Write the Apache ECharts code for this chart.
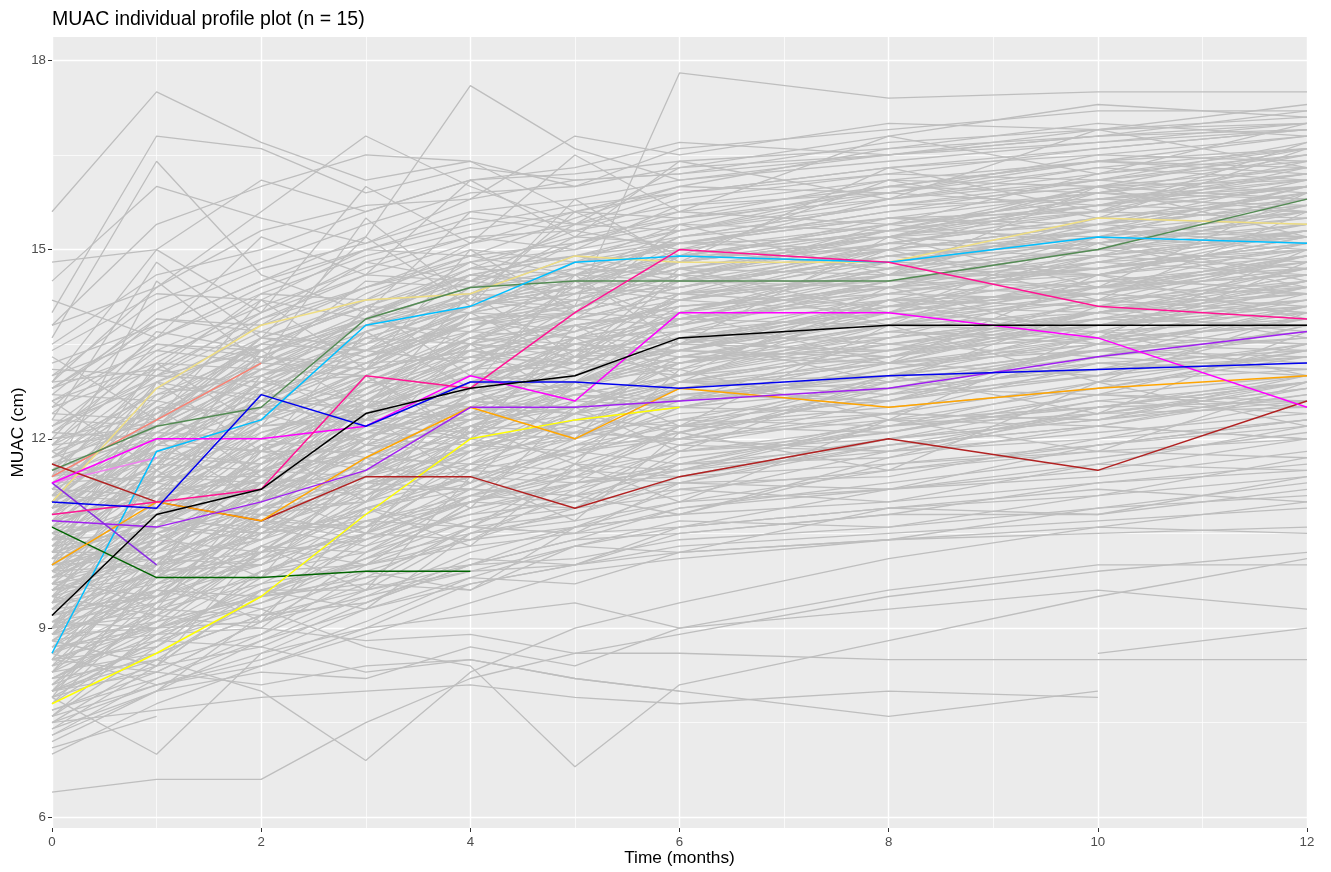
<!DOCTYPE html>
<html>
<head>
<meta charset="utf-8">
<title>MUAC individual profile plot</title>
<script src="https://cdn.jsdelivr.net/npm/echarts@6/dist/echarts.min.js"></script>
<style>
  html, body { margin: 0; padding: 0; background: #ffffff; }
  #chart { width: 1331px; height: 872px; }
</style>
</head>
<body>
<div id="chart"></div>
<script>
// Visit times (months) at which MUAC was measured
const months = [0, 1, 2, 3, 4, 5, 6, 8, 10, 12];

// Axis breaks
const timeTicks = [0, 2, 4, 6, 8, 10, 12];
const muacTicks = [6, 9, 12, 15, 18];
const muacMinorTicks = [7.5, 10.5, 13.5, 16.5];

// Background cohort profiles, MUAC (cm) at each visit; null = no visit
const cohortLow = [
  [7.2, 8.0, 8.8, 9.5, 10.2, 10.6, 11.0, 11.5, 11.9, 12.3],
  [7.4, 8.4, 9.6, 10.1, 10.9, 11.2, 11.6, 12.2, 12.5, 12.9],
  [7.5, 8.1, 8.6, 9.0, 9.7, 10.0, 10.5, 10.8, 11.3, 11.6],
  [7.6, 9.0, 10.2, 10.9, 11.4, 11.8, 12.3, 12.6, 13.1, 13.5],
  [7.7, 8.3, 9.1, 10.0, 10.4, 10.9, 11.1, 11.8, 12.0, 12.6],
  [7.8, 9.4, 10.6, 11.5, 12.2, 12.5, 12.9, 13.4, 13.6, 14.1],
  [7.9, 8.8, 9.3, 9.8, 10.6, 10.8, 11.4, 12.0, 12.4, 12.8],
  [8.0, 8.5, 8.9, 9.6, 9.9, 10.3, 10.2, 10.9, 11.2, 11.0],
  [8.0, 9.8, 11.0, 11.6, 12.4, 12.8, 13.2, 13.6, 14.0, 14.4],
  [8.1, 8.7, 9.9, 10.4, 11.1, 11.0, 11.7, 12.1, 12.6, 12.9],
  [8.2, 9.1, 9.5, 10.3, 10.8, 11.3, 11.6, 11.9, 12.4, 12.5],
  [8.3, 9.6, 10.8, 11.9, 12.6, 13.1, 13.4, 13.9, 14.3, 14.8],
  [8.3, 8.6, 9.2, 9.4, 10.0, 10.4, 10.9, 11.3, 11.7, 12.1],
  [8.4, 9.3, 10.1, 10.7, 11.0, 11.6, 12.1, 12.7, 13.0, 13.3],
  [8.5, 10.2, 11.3, 12.0, 12.7, 13.0, 13.5, 14.1, 14.6, 15.0],
  [8.5, 9.0, 9.4, 10.1, 10.7, 11.1, 11.3, 11.9, 12.2, 12.8],
  [8.6, 9.7, 10.4, 11.2, 11.8, 12.0, 12.6, 13.1, 13.5, 13.9],
  [8.7, 8.9, 9.7, 10.5, 11.3, 11.9, 12.0, 12.4, 12.9, 13.1],
  [8.8, 10.0, 10.9, 11.4, 12.1, 12.4, 12.8, 13.3, 13.9, 14.2],
  [8.9, 9.5, 10.0, 10.6, 11.5, 11.4, 12.2, 12.5, 12.8, 13.4],
  [8.9, 10.6, 11.8, 12.5, 13.2, 13.6, 13.9, 14.5, 14.8, 15.3],
  [9.0, 9.2, 9.9, 10.2, 10.9, 11.3, 11.5, 12.0, 12.3, 12.6],
  [9.0, 10.4, 11.1, 12.2, 12.6, 12.9, 13.3, 13.8, 14.2, 14.5],
  [8.0, 8.6, 9.2, 9.6, 10.0, 10.1, 10.4, 10.6, 10.9, 11.1],
  [9.0, 9.3, 9.7, 10.0, 10.3, 10.5, 10.6, 10.9, 11.1, 11.4],
  [8.5, 9.1, 9.5, 10.1, 10.5, 10.7, 11.0, 11.2, 11.4, 11.8],
  [9.6, 9.8, 10.2, 10.4, 10.8, 11.0, 11.2, 11.5, 11.8, 12.0],
  [7.7, 8.2, 8.8, 9.3, 9.7, 10.0, 10.3, 10.5, 10.7, 10.9],
  [10.0, 10.1, 10.4, 10.9, 11.2, 11.1, 11.5, 11.8, 12.1, 12.4],
  [8.9, 9.0, 9.5, 9.8, 10.0, 10.4, 10.5, 10.8, 10.8, 11.2],
  [9.3, 9.5, 10.1, 10.5, 11.0, 11.3, 11.4, 11.6, 11.9, 12.2],
  [8.2, 8.9, 9.4, 9.9, 10.4, 10.6, 10.8, 11.0, 11.3, 11.5],
  [9.9, 10.0, 10.5, 10.7, 11.1, 11.4, 11.8, 12.0, 12.3, 12.7],
  [8.7, 9.0, 9.1, 9.5, 9.9, 10.0, 10.2, 10.4, 10.6, 10.5],
  [10.4, 10.5, 10.9, 11.3, 11.5, 11.8, 12.0, 12.3, 12.5, 12.9],
  [9.1, 9.0, 9.6, 10.0, 10.6, 10.5, 10.9, 11.2, 11.6, 11.5],
  [8.0, 8.8, 8.7, 9.4, 10.1, 10.0, 10.6, 10.9, 10.8, 11.4],
  [9.7, 9.5, 10.3, 10.2, 11.1, 11.5, 11.4, 11.9, 12.2, 12.0],
  [8.5, 8.3, 9.1, 9.7, 9.6, 10.3, 10.7, 10.6, 11.1, 11.7],
  [10.2, 10.6, 10.5, 11.3, 11.6, 11.5, 12.2, 12.4, 12.3, 12.9],
  [7.6, 8.1, 8.5, 9.1, 9.8, 9.7, 10.2, 10.4, 10.5, 10.6]
];

const cohortMid = [
  [9.1, 10.1, 10.8, 11.3, 11.9, 12.3, 12.7, 13.0, 13.6, 13.8],
  [9.2, 9.6, 10.3, 11.0, 11.4, 11.8, 12.1, 12.7, 13.2, 13.4],
  [9.2, 11.0, 12.0, 12.8, 13.3, 13.7, 14.2, 14.6, 15.0, 15.4],
  [9.3, 9.9, 10.5, 10.8, 11.6, 12.0, 12.4, 12.6, 13.0, 13.5],
  [9.3, 10.7, 11.6, 12.3, 12.9, 13.4, 13.6, 14.0, 14.4, 14.9],
  [9.4, 10.3, 11.2, 11.7, 12.3, 12.5, 13.0, 13.5, 13.8, 14.0],
  [9.4, 9.7, 10.0, 10.6, 11.0, 11.5, 11.8, 12.2, 12.7, 13.0],
  [9.5, 11.2, 12.3, 13.0, 13.6, 14.0, 14.4, 14.9, 15.3, 15.6],
  [9.5, 10.5, 11.0, 11.9, 12.5, 12.9, 13.1, 13.7, 14.1, 14.3],
  [9.6, 10.0, 10.9, 11.5, 12.0, 12.2, 12.8, 13.2, 13.5, 13.9],
  [9.6, 10.9, 12.1, 12.6, 13.1, 13.5, 13.8, 14.3, 14.7, 15.1],
  [9.7, 10.2, 10.6, 11.1, 11.7, 12.1, 12.3, 12.9, 13.3, 13.6],
  [9.7, 11.4, 12.6, 13.3, 13.9, 14.2, 14.6, 15.1, 15.5, 15.9],
  [9.8, 10.6, 11.4, 12.1, 12.8, 13.0, 13.5, 13.9, 14.4, 14.6],
  [9.8, 10.1, 10.7, 11.4, 11.8, 12.4, 12.6, 13.0, 13.4, 13.7],
  [9.9, 10.8, 11.7, 12.4, 12.7, 13.3, 13.7, 14.2, 14.5, 14.8],
  [9.9, 11.1, 11.5, 11.8, 12.4, 12.7, 13.0, 13.6, 14.0, 14.2],
  [10.0, 10.4, 11.2, 11.9, 12.2, 12.6, 12.9, 13.4, 13.8, 14.1],
  [10.0, 11.6, 12.8, 13.4, 14.0, 14.3, 14.7, 15.2, 15.6, 16.0],
  [10.1, 10.9, 11.9, 12.5, 13.0, 13.2, 13.6, 14.1, 14.3, 14.7],
  [10.1, 10.3, 10.8, 11.2, 11.9, 12.3, 12.5, 12.8, 13.1, 13.3],
  [10.2, 11.3, 12.2, 12.9, 13.5, 13.8, 14.1, 14.4, 14.9, 15.2],
  [10.2, 10.7, 11.3, 12.0, 12.6, 12.8, 13.3, 13.8, 14.0, 14.5],
  [10.3, 11.8, 12.4, 13.1, 13.4, 13.9, 14.3, 14.8, 15.1, 15.5],
  [10.3, 10.5, 11.1, 11.6, 12.1, 12.7, 13.0, 13.3, 13.7, 13.9],
  [10.4, 11.5, 12.5, 13.2, 13.8, 14.1, 14.5, 15.0, 15.3, 15.8],
  [10.4, 11.0, 11.6, 12.2, 12.9, 13.1, 13.4, 13.9, 14.2, 14.4],
  [10.5, 11.2, 12.0, 12.6, 13.2, 13.6, 13.9, 14.3, 14.8, 15.0],
  [10.5, 10.8, 11.4, 11.8, 12.3, 12.5, 12.9, 13.2, 13.6, 13.8],
  [10.6, 11.9, 12.9, 13.6, 14.1, 14.5, 14.8, 15.3, 15.7, 16.1],
  [10.6, 11.3, 11.8, 12.4, 13.0, 13.3, 13.7, 14.0, 14.5, 14.7],
  [10.7, 11.1, 11.9, 12.7, 13.3, 13.5, 13.8, 14.4, 14.6, 14.9],
  [10.7, 12.2, 13.0, 13.5, 14.2, 14.4, 14.9, 15.4, 15.8, 16.2],
  [10.8, 11.6, 12.3, 12.8, 13.4, 13.9, 14.2, 14.6, 15.0, 15.3],
  [10.8, 11.0, 11.5, 12.1, 12.5, 12.9, 13.2, 13.5, 13.9, 14.1],
  [10.9, 12.0, 12.7, 13.3, 13.7, 14.0, 14.4, 14.9, 15.2, 15.6],
  [10.9, 11.4, 12.1, 12.5, 13.1, 13.2, 13.6, 14.1, 14.4, 14.6],
  [11.0, 12.4, 13.3, 13.9, 14.4, 14.7, 15.1, 15.5, 15.9, 16.3],
  [11.0, 11.7, 12.4, 13.0, 13.6, 13.8, 14.0, 14.7, 15.0, 15.2],
  [11.1, 11.5, 12.2, 12.9, 13.5, 13.9, 14.3, 14.5, 14.9, 15.3],
  [11.1, 12.1, 12.8, 13.4, 13.8, 14.2, 14.6, 15.0, 15.4, 15.7],
  [11.2, 11.9, 12.6, 13.2, 13.9, 14.1, 14.5, 14.8, 15.2, 15.5],
  [11.2, 12.6, 13.5, 14.1, 14.6, 14.9, 15.2, 15.7, 16.1, 16.4],
  [11.3, 11.8, 12.3, 13.1, 13.4, 13.7, 14.1, 14.4, 14.7, 15.0],
  [11.4, 12.3, 13.1, 13.7, 14.3, 14.6, 14.9, 15.3, 15.6, 16.0],
  [11.4, 12.0, 12.7, 13.3, 13.8, 14.0, 14.4, 14.9, 15.1, 15.4],
  [11.5, 12.8, 13.6, 14.2, 14.8, 15.0, 15.3, 15.8, 16.2, 16.5],
  [11.5, 12.1, 12.9, 13.5, 14.0, 14.3, 14.7, 15.1, 15.5, 15.8],
  [11.6, 12.5, 13.2, 13.8, 14.5, 14.8, 15.0, 15.4, 15.8, 16.1],
  [11.7, 12.2, 13.0, 13.6, 14.1, 14.4, 14.8, 15.2, 15.4, 15.7],
  [11.8, 13.0, 13.8, 14.4, 14.9, 15.1, 15.5, 15.9, 16.3, 16.6],
  [11.9, 12.7, 13.4, 13.9, 14.6, 14.9, 15.1, 15.6, 15.9, 16.2],
  [12.0, 12.4, 13.1, 13.8, 14.2, 14.5, 14.9, 15.3, 15.7, 16.0]
];

const cohortHigh = [
  [12.1, 13.3, 14.0, 14.6, 15.1, 15.4, 15.7, 16.1, 16.4, 16.8],
  [12.2, 12.9, 13.5, 14.1, 14.7, 14.9, 15.3, 15.7, 16.0, 16.3],
  [12.4, 13.6, 14.3, 14.9, 15.3, 15.6, 15.9, 16.2, 16.6, 16.9],
  [12.5, 13.1, 13.9, 14.4, 14.8, 15.2, 15.5, 15.8, 16.1, 16.5],
  [12.7, 14.0, 14.7, 15.1, 15.6, 15.8, 16.1, 16.4, 16.7, 17.0],
  [12.8, 13.4, 14.1, 14.7, 15.2, 15.3, 15.6, 16.0, 16.4, 16.6],
  [13.0, 14.2, 14.8, 15.4, 15.9, 16.0, 16.3, 16.5, 16.9, 17.1],
  [13.2, 13.8, 14.5, 15.0, 15.4, 15.7, 15.9, 16.3, 16.5, 16.8],
  [13.5, 14.6, 15.0, 15.6, 16.1, 16.2, 16.4, 16.6, 16.8, 17.2],
  [13.8, 14.4, 15.3, 15.7, 15.8, 16.1, 16.2, 16.5, 16.7, 16.9],
  [15.6, 17.5, 16.7, 16.1, 16.4, 16.0, 16.6, 16.9, 17.2, 17.2],
  [14.0, 16.8, 16.6, 15.9, 16.3, 16.1, 16.2, 16.7, 16.9, 17.0],
  [13.6, 16.4, 14.6, 14.0, 15.6, 15.4, 15.9, 16.3, 16.6, 16.9],
  [12.8, 13.8, 14.5, 15.2, 17.6, 16.6, 16.1, 16.5, 16.8, 17.0],
  [11.7, 12.6, 13.4, 13.9, 14.8, 14.1, 17.8, 17.4, 17.5, 17.5],
  [12.9, 14.4, 15.6, 16.8, 16.0, 15.4, 16.3, 16.8, 17.3, 17.1],
  [14.5, 16.0, 15.5, 15.1, 15.8, 16.8, 16.5, 17.0, 16.9, 17.3],
  [13.8, 15.4, 16.0, 16.5, 16.4, 15.6, 16.0, 16.6, 17.0, 16.8],
  [14.8, 15.0, 16.1, 15.6, 16.1, 16.3, 16.7, 16.5, 16.8, 16.9]
];

const cohortIrregular = [
  [10.2, 12.5, 11.4, 13.0, 12.1, 13.6, 12.9, 14.2, 13.5, 14.8],
  [11.8, 10.9, 12.8, 11.9, 13.5, 12.6, 14.0, 13.2, 14.6, 13.9],
  [9.0, 11.5, 10.6, 12.4, 11.3, 12.9, 12.2, 13.8, 12.9, 14.0],
  [12.6, 11.5, 13.4, 12.5, 14.3, 13.3, 14.7, 14.0, 15.2, 14.5],
  [8.5, 10.5, 9.8, 11.7, 10.9, 12.5, 11.8, 13.0, 12.4, 13.7],
  [10.9, 13.2, 12.2, 14.1, 13.0, 14.5, 13.8, 15.0, 14.2, 15.6],
  [13.3, 12.3, 14.2, 13.1, 15.0, 14.0, 15.4, 14.6, 16.0, 15.2],
  [9.9, 9.3, 11.2, 10.5, 12.2, 11.6, 13.1, 12.3, 13.7, 13.0],
  [11.4, 14.5, 13.2, 15.5, 14.2, 15.6, 14.9, 16.1, 15.5, 16.6],
  [7.9, 9.9, 9.1, 10.9, 10.3, 11.6, 11.0, 12.3, 11.8, 12.9],
  [12.9, 15.0, 14.0, 16.0, 15.1, 16.5, 15.6, 16.8, 16.2, 17.0],
  [10.5, 9.9, 11.9, 11.0, 12.8, 12.0, 13.6, 12.9, 14.1, 13.6],
  [9.4, 12.0, 11.0, 13.0, 12.0, 13.8, 13.0, 14.4, 13.6, 15.0],
  [11.6, 11.0, 13.0, 12.3, 14.0, 13.2, 14.6, 13.8, 15.1, 14.4],
  [8.8, 8.4, 10.3, 9.6, 11.4, 10.7, 12.1, 11.5, 12.9, 12.2],
  [14.2, 13.6, 15.2, 14.6, 16.1, 15.2, 16.4, 15.8, 16.9, 16.3],
  [10.0, 12.9, 11.8, 13.7, 12.8, 14.6, 13.5, 15.2, 14.4, 15.9],
  [12.3, 14.8, 13.6, 15.2, 14.1, 15.8, 14.8, 16.3, 15.6, 16.7],
  [10.3, 11.0, 12.4, 12.0, 12.9, 13.5, 13.3, 13.9, 14.6, 14.3],
  [9.6, 10.9, 11.2, 12.5, 12.3, 13.0, 13.7, 13.5, 14.0, 14.7],
  [11.3, 12.6, 12.3, 13.1, 13.9, 13.6, 14.2, 14.9, 14.6, 15.3],
  [8.7, 9.9, 10.8, 10.5, 11.6, 12.2, 11.9, 12.6, 13.3, 13.1],
  [10.8, 12.3, 12.0, 12.8, 13.6, 13.4, 14.3, 14.1, 14.8, 15.4],
  [9.1, 9.8, 11.1, 11.8, 11.5, 12.4, 12.9, 12.7, 13.5, 14.0],
  [12.1, 12.0, 13.2, 13.9, 13.5, 14.4, 15.0, 14.7, 15.4, 15.9],
  [8.4, 10.0, 10.2, 11.4, 12.0, 11.7, 12.5, 13.2, 13.0, 13.8],
  [10.6, 10.6, 11.7, 12.1, 12.8, 13.4, 13.2, 14.0, 13.8, 14.5],
  [11.9, 13.5, 13.3, 14.0, 14.5, 14.3, 15.1, 15.5, 15.3, 16.0],
  [9.3, 10.4, 10.2, 11.3, 11.9, 12.1, 12.0, 12.9, 13.4, 13.2],
  [10.1, 11.5, 12.5, 12.3, 13.4, 13.1, 14.0, 14.6, 14.4, 15.1],
  [11.5, 11.3, 12.6, 13.4, 13.2, 14.1, 14.6, 14.4, 15.2, 15.6],
  [8.9, 10.3, 11.4, 11.2, 12.2, 12.8, 12.6, 13.3, 14.0, 13.7],
  [12.6, 13.2, 14.2, 13.9, 14.7, 15.3, 15.0, 15.8, 16.3, 16.1],
  [9.7, 10.0, 11.8, 11.5, 12.2, 12.9, 13.6, 13.3, 14.2, 14.0],
  [10.9, 11.8, 11.6, 12.9, 13.6, 13.5, 13.9, 14.5, 15.0, 14.8],
  [7.6, 8.7, 9.6, 9.3, 10.5, 11.1, 10.8, 11.7, 12.2, 12.0],
  [11.0, 12.9, 13.7, 13.4, 14.0, 14.8, 14.5, 15.3, 15.9, 15.6],
  [9.5, 10.0, 10.4, 11.6, 11.3, 12.1, 12.8, 12.6, 13.3, 13.9],
  [12.3, 12.2, 13.3, 13.1, 14.3, 14.9, 14.6, 15.2, 15.7, 16.2],
  [10.4, 12.0, 11.8, 12.7, 13.3, 13.0, 14.0, 14.4, 14.3, 15.0],
  [8.1, 9.2, 10.6, 10.3, 11.2, 11.8, 11.6, 12.3, 12.8, 13.3],
  [11.7, 12.9, 12.6, 13.9, 14.2, 14.0, 14.9, 15.4, 15.1, 15.8],
  [9.2, 9.5, 10.7, 10.6, 11.8, 12.4, 12.1, 13.0, 13.4, 13.6],
  [10.7, 11.6, 12.9, 12.6, 13.6, 14.2, 14.0, 14.7, 15.3, 15.1],
  [13.1, 13.0, 14.0, 14.8, 14.5, 15.1, 15.6, 15.4, 16.2, 16.6],
  [9.9, 11.3, 11.0, 12.0, 12.6, 12.4, 13.2, 13.7, 13.5, 14.3],
  [11.2, 11.1, 12.7, 12.4, 13.1, 13.8, 13.5, 14.3, 14.8, 14.6],
  [8.6, 9.4, 9.8, 10.9, 10.6, 11.5, 12.0, 11.8, 12.5, 13.0],
  [12.0, 13.7, 13.4, 14.3, 14.9, 14.6, 15.3, 15.9, 15.7, 16.4],
  [10.0, 10.9, 12.0, 11.7, 12.7, 13.2, 13.0, 13.8, 14.3, 14.1],
  [7.3, 8.2, 8.9, 9.9, 9.6, 10.6, 11.2, 11.0, 11.6, 12.2],
  [11.6, 12.4, 13.6, 13.3, 14.1, 14.4, 14.2, 15.0, 15.4, 15.2],
  [9.4, 10.8, 10.5, 11.6, 12.4, 12.2, 12.9, 13.5, 13.3, 14.1],
  [10.2, 10.2, 11.0, 12.3, 12.0, 12.9, 13.4, 13.2, 13.9, 14.5],
  [12.8, 13.9, 13.7, 14.4, 15.0, 14.8, 15.4, 16.0, 15.9, 16.5],
  [8.3, 9.1, 10.3, 10.0, 11.0, 11.4, 11.3, 12.0, 12.6, 12.4],
  [11.4, 13.1, 12.8, 13.7, 14.2, 14.1, 14.8, 15.2, 15.0, 15.9],
  [9.8, 10.5, 11.3, 11.1, 12.1, 12.7, 12.5, 13.1, 13.7, 13.5]
];

const cohortCrossing = [
  [8.1, 9.5, 10.9, 11.0, 12.1, 12.0, 12.9, 13.0, 13.8, 14.2],
  [9.0, 10.0, 11.6, 12.2, 12.3, 13.3, 13.1, 14.2, 14.1, 14.9],
  [10.1, 11.6, 11.5, 12.8, 13.5, 13.3, 14.2, 14.0, 14.9, 15.3],
  [11.1, 11.0, 12.2, 12.3, 13.2, 14.0, 13.9, 14.6, 15.2, 15.0],
  [12.2, 13.4, 13.2, 14.5, 14.4, 15.2, 15.1, 15.6, 16.1, 15.9],
  [8.6, 9.2, 10.5, 11.3, 11.2, 12.0, 12.7, 12.6, 13.5, 13.4],
  [9.7, 10.9, 10.8, 12.0, 12.9, 12.8, 13.4, 14.1, 14.0, 14.6],
  [10.6, 12.1, 12.0, 13.0, 13.9, 13.7, 14.5, 14.4, 15.1, 15.7],
  [11.5, 11.6, 13.3, 13.2, 14.0, 14.7, 14.6, 15.3, 15.2, 16.0],
  [12.7, 12.6, 13.9, 14.6, 14.5, 15.4, 15.3, 16.0, 16.4, 16.2],
  [7.8, 8.9, 9.0, 10.2, 10.7, 10.9, 11.6, 11.7, 12.5, 12.6],
  [8.9, 9.9, 10.0, 11.1, 11.8, 12.3, 12.2, 13.0, 13.1, 13.8],
  [9.9, 10.6, 11.8, 11.8, 12.6, 13.1, 13.9, 13.8, 14.5, 14.4],
  [11.2, 12.5, 12.4, 13.6, 13.5, 14.3, 14.4, 15.1, 15.0, 15.6],
  [12.4, 12.3, 13.6, 13.5, 14.6, 14.5, 15.2, 15.5, 15.6, 16.3],
  [8.3, 10.1, 10.0, 11.0, 11.9, 11.8, 12.7, 12.9, 13.2, 13.1],
  [9.4, 9.9, 11.3, 11.4, 12.5, 12.4, 13.3, 13.4, 14.0, 14.3],
  [10.4, 10.8, 12.2, 12.4, 13.1, 13.9, 13.8, 14.5, 14.7, 15.3],
  [11.3, 12.2, 13.4, 13.8, 13.7, 14.6, 14.8, 15.2, 15.8, 15.7],
  [13.4, 14.3, 14.2, 15.0, 15.5, 15.3, 15.8, 16.2, 16.1, 16.7],
  [7.5, 8.5, 9.5, 9.7, 10.6, 10.5, 11.3, 11.4, 12.0, 12.3],
  [8.8, 9.7, 10.6, 10.6, 11.5, 12.1, 12.0, 12.8, 12.7, 13.5],
  [10.0, 11.1, 11.2, 12.3, 12.4, 13.3, 13.4, 14.0, 14.4, 14.3],
  [11.0, 12.3, 13.2, 13.1, 14.0, 13.9, 14.9, 15.0, 15.4, 15.9],
  [12.0, 12.2, 13.6, 14.1, 14.0, 14.8, 15.1, 15.0, 15.9, 15.8],
  [8.4, 8.8, 9.8, 10.7, 10.6, 11.3, 11.5, 12.2, 12.4, 12.8],
  [9.5, 10.4, 11.5, 11.4, 12.3, 12.7, 12.6, 13.6, 13.9, 13.8],
  [10.7, 11.2, 11.3, 12.6, 13.4, 13.2, 14.1, 14.3, 14.2, 14.9],
  [11.8, 12.3, 13.5, 13.4, 14.4, 14.6, 14.5, 15.4, 15.7, 15.6],
  [13.0, 13.6, 14.4, 15.0, 14.9, 15.5, 16.0, 15.9, 16.5, 16.4],
  [8.0, 9.3, 9.2, 10.5, 11.2, 11.1, 11.9, 12.4, 12.3, 13.0],
  [9.1, 9.4, 10.8, 11.0, 11.7, 12.6, 12.5, 13.1, 13.6, 13.5],
  [10.3, 11.4, 11.4, 12.6, 12.5, 13.4, 13.6, 13.6, 14.4, 14.8],
  [11.4, 11.7, 12.9, 13.0, 13.9, 14.0, 14.9, 14.8, 15.3, 15.2],
  [12.5, 13.9, 13.8, 14.8, 15.2, 15.0, 15.7, 15.9, 16.4, 16.3],
  [8.6, 9.8, 10.7, 10.4, 11.1, 11.7, 12.3, 12.2, 12.9, 13.4],
  [9.6, 10.2, 11.0, 11.9, 11.8, 12.6, 13.0, 13.7, 13.6, 14.2],
  [10.8, 11.9, 11.8, 12.6, 13.3, 13.2, 14.3, 14.6, 14.6, 15.2],
  [11.9, 12.1, 13.0, 13.8, 14.3, 14.2, 14.8, 15.5, 15.4, 16.1],
  [7.4, 8.0, 9.2, 9.4, 10.0, 10.6, 10.8, 11.6, 11.8, 11.7],
  [8.2, 9.0, 9.9, 10.5, 10.4, 11.2, 11.9, 11.8, 12.4, 12.9],
  [9.3, 10.6, 10.4, 11.5, 12.2, 12.1, 12.8, 13.2, 13.4, 13.3],
  [10.5, 10.7, 11.9, 12.0, 12.7, 13.6, 13.5, 14.2, 14.3, 14.9],
  [11.7, 12.8, 12.7, 13.7, 14.1, 14.4, 14.3, 15.1, 15.6, 15.5],
  [12.9, 13.1, 14.3, 14.2, 15.1, 15.6, 15.5, 16.1, 16.0, 16.6],
  [8.5, 8.7, 9.9, 10.0, 11.0, 10.9, 11.8, 12.1, 12.7, 12.6],
  [9.8, 11.0, 11.1, 12.1, 12.0, 12.9, 13.3, 13.2, 14.0, 14.6],
  [10.9, 11.3, 12.4, 12.9, 12.8, 13.6, 13.7, 14.5, 14.4, 14.9],
  [11.1, 12.7, 13.0, 13.4, 14.1, 14.3, 14.7, 14.6, 15.5, 15.4],
  [9.2, 9.9, 10.1, 11.2, 11.2, 11.9, 12.5, 12.4, 13.2, 13.0],
  [10.2, 11.7, 11.6, 12.5, 13.0, 12.9, 13.9, 14.2, 14.1, 14.7],
  [8.7, 9.6, 9.5, 10.4, 11.0, 11.6, 11.5, 12.3, 12.2, 12.7],
  [9.6, 10.7, 11.7, 11.6, 12.6, 12.5, 13.2, 13.8, 13.7, 14.4],
  [10.6, 11.4, 11.3, 12.5, 12.7, 13.5, 13.4, 14.2, 14.9, 14.7],
  [11.6, 12.0, 13.1, 13.0, 13.7, 14.5, 14.4, 15.0, 14.9, 15.7],
  [12.1, 13.0, 12.9, 14.0, 14.6, 14.4, 15.2, 15.7, 15.8, 16.0],
  [7.9, 8.4, 9.6, 9.6, 10.5, 10.8, 11.3, 11.2, 11.9, 12.3],
  [9.0, 10.7, 10.6, 11.7, 11.6, 12.5, 12.9, 12.8, 13.4, 14.1],
  [10.0, 10.3, 11.5, 12.2, 12.1, 12.9, 13.5, 13.4, 14.2, 14.0],
  [11.3, 11.4, 12.5, 12.7, 13.7, 13.6, 14.2, 14.7, 14.6, 15.2],
  [12.6, 13.5, 13.4, 14.2, 14.3, 15.1, 15.4, 15.3, 16.0, 16.1],
  [8.8, 9.1, 10.2, 10.8, 11.4, 11.3, 12.2, 12.1, 12.7, 12.5],
  [9.9, 10.4, 10.9, 12.0, 11.9, 12.8, 13.4, 13.3, 13.8, 14.4],
  [10.8, 12.0, 12.6, 12.5, 13.5, 13.4, 14.0, 14.8, 14.7, 15.1],
  [11.9, 13.2, 13.1, 13.9, 14.7, 14.6, 15.1, 15.2, 16.0, 15.8]
];

// Low outliers and children lost to follow-up
const cohortSparse = [
  [6.4, 6.6, 6.6, 7.5, 8.2, 8.6, 8.9, 9.5, 9.9, 10.2],
  [7.9, 7.0, 8.6, 9.3, 9.8, 10.3, 10.6, 11.2, 11.5, 12.0],
  [8.2, 8.5, 8.0, 6.9, 8.3, 9.0, 9.4, 10.1, 10.6, 11.0],
  [9.0, 9.6, 9.3, 8.7, 8.4, 6.8, 8.1, 8.8, 9.5, 10.1],
  [7.5, 7.7, 7.9, 8.0, 8.1, 7.9, 7.8, 8.0, 7.9, null],
  [8.0, 8.3, 8.1, 8.4, 8.5, 8.2, 8.0, 7.6, 8.0, null],
  [9.5, 9.2, 9.0, 8.8, 8.9, 8.6, 8.6, 8.5, 8.5, 8.5],
  [null, null, null, null, null, null, null, null, 8.6, 9.0],
  [7.3, 8.0, 8.3, 8.2, 8.7, 8.4, 9.0, 9.3, 9.6, 9.3],
  [7.1, 7.6, null, null, null, null, null, null, null, null],
  [8.6, 8.1, 8.4, 9.0, 9.2, 9.4, 9.0, 9.6, 10.0, 10.0],
  [7.0, 7.8, 8.4, 8.9, 9.4, 9.9, 10.1, 10.4, 10.9, 11.3],
  [10.5, 11.8, null, null, null, null, null, null, null, null],
  [12.2, 13.0, 13.4, null, null, null, null, null, null, null],
  [9.8, 10.6, 11.5, 12.0, 12.6, null, null, null, null, null],
  [11.0, 11.9, 12.5, 13.2, 13.3, 13.8, 14.1, null, null, null],
  [8.9, 9.4, 10.2, 10.9, 11.3, 11.9, 12.2, 12.8, 13.1, null],
  [8.8, 8.4, 8.7, 8.3, 8.5, 8.2, 8.0, null, null, null]
];

// The 15 highlighted children
const highlightProfiles = [
  [11.4, 12.3, 13.2, null, null, null, null, null, null, null],
  [11.3, 11.7, null, null, null, null, null, null, null, null],
  [11.0, 12.8, 13.8, 14.2, 14.3, 14.9, 14.8, 14.8, 15.5, 15.4],
  [11.5, 12.2, 12.5, 13.9, 14.4, 14.5, 14.5, 14.5, 15.0, 15.8],
  [8.6, 11.8, 12.3, 13.8, 14.1, 14.8, 14.9, 14.8, 15.2, 15.1],
  [10.6, 9.8, 9.8, 9.9, 9.9, null, null, null, null, null],
  [7.8, 8.6, 9.5, 10.8, 12.0, 12.3, 12.5, null, null, null],
  [11.6, 11.0, 10.7, 11.4, 11.4, 10.9, 11.4, 12.0, 11.5, 12.6],
  [10.0, 11.0, 10.7, 11.7, 12.5, 12.0, 12.8, 12.5, 12.8, 13.0],
  [10.7, 10.6, 11.0, 11.5, 12.5, 12.5, 12.6, 12.8, 13.3, 13.7],
  [11.3, 10.0, null, null, null, null, null, null, null, null],
  [11.3, 12.0, 12.0, 12.2, 13.0, 12.6, 14.0, 14.0, 13.6, 12.5],
  [10.8, 11.0, 11.2, 13.0, 12.8, 14.0, 15.0, 14.8, 14.1, 13.9],
  [11.0, 10.9, 12.7, 12.2, 12.9, 12.9, 12.8, 13.0, 13.1, 13.2],
  [9.2, 10.8, 11.2, 12.4, 12.8, 13.0, 13.6, 13.8, 13.8, 13.8]
];
const highlightColours = [
  '#FA8072', '#EE82EE', '#EEDD82', '#548B54', '#00BFFF',
  '#006400', '#FFFF00', '#B22222', '#FFA500', '#A020F0',
  '#8A2BE2', '#FF00FF', '#FF1493', '#0000EE', '#000000'
];

function toPoints(values) {
  const pts = [];
  values.forEach((v, i) => { if (v !== null) pts.push([months[i], v]); });
  return pts;
}

const chart = echarts.init(document.getElementById('chart'), null, { renderer: 'canvas' });

const series = [];

// Panel grid lines on the MUAC axis
series.push({
  type: 'line',
  data: [],
  z: 1,
  silent: true,
  markLine: {
    silent: true,
    symbol: 'none',
    animation: false,
    z: 1,
    label: { show: false },
    emphasis: { disabled: true },
    data: muacTicks.map(v => ({ yAxis: v, lineStyle: { color: '#FFFFFF', width: 1.4, type: 'solid' } }))
      .concat(muacMinorTicks.map(v => ({ yAxis: v, lineStyle: { color: '#FFFFFF', width: 0.7, type: 'solid' } })))
  }
});

[cohortLow, cohortMid, cohortHigh, cohortIrregular, cohortCrossing, cohortSparse].forEach(group => {
  group.forEach(profile => {
    series.push({
      type: 'line',
      data: toPoints(profile),
      symbol: 'none',
      silent: true,
      connectNulls: true,
      z: 2,
      lineStyle: { color: '#BEBEBE', width: 1.3 },
      emphasis: { disabled: true }
    });
  });
});

highlightProfiles.forEach((profile, k) => {
  series.push({
    type: 'line',
    data: toPoints(profile),
    symbol: 'none',
    silent: true,
    connectNulls: true,
    z: 3,
    lineStyle: { color: highlightColours[k], width: 1.5 },
    emphasis: { disabled: true }
  });
});

const font = 'Liberation Sans, Arial, sans-serif';

chart.setOption({
  animation: false,
  backgroundColor: '#FFFFFF',
  title: {
    text: 'MUAC individual profile plot (n = 15)',
    left: 47,
    top: 5,
    textStyle: { fontFamily: font, fontSize: 19.5, fontWeight: 'normal', color: '#000000' }
  },
  grid: {
    left: 52, right: 24, top: 37, bottom: 44,
    outerBoundsMode: 'none',
    containLabel: false,
    show: true, backgroundColor: '#EBEBEB', borderWidth: 0
  },
  xAxis: {
    type: 'value',
    min: 0, max: 12, interval: 2,
    name: 'Time (months)',
    nameLocation: 'middle',
    nameGap: 22,
    nameMoveOverlap: false,
    nameTextStyle: { fontFamily: font, fontSize: 17.3, color: '#000000' },
    axisLine: { show: false },
    axisTick: { show: true, length: 4, lineStyle: { color: '#333333', width: 1 } },
    axisLabel: { fontFamily: font, fontSize: 13.3, color: '#4D4D4D', margin: 8,
      customValues: timeTicks },
    splitLine: { show: true, lineStyle: { color: '#FFFFFF', width: 1.4 } },
    minorTick: { show: false, splitNumber: 2 },
    minorSplitLine: { show: true, lineStyle: { color: '#FFFFFF', width: 0.7 } }
  },
  yAxis: {
    type: 'value',
    min: 5.83, max: 18.37,
    name: 'MUAC (cm)',
    nameLocation: 'middle',
    nameGap: 25,
    nameMoveOverlap: false,
    nameRotate: 90,
    nameTextStyle: { fontFamily: font, fontSize: 17.3, color: '#000000' },
    axisLine: { show: false },
    axisTick: { show: true, length: 4, lineStyle: { color: '#333333', width: 1 }, customValues: muacTicks },
    axisLabel: { fontFamily: font, fontSize: 13.3, color: '#4D4D4D', margin: 6, customValues: muacTicks },
    splitLine: { show: false },
    minorSplitLine: { show: false }
  },
  series: series
});
</script>
</body>
</html>
